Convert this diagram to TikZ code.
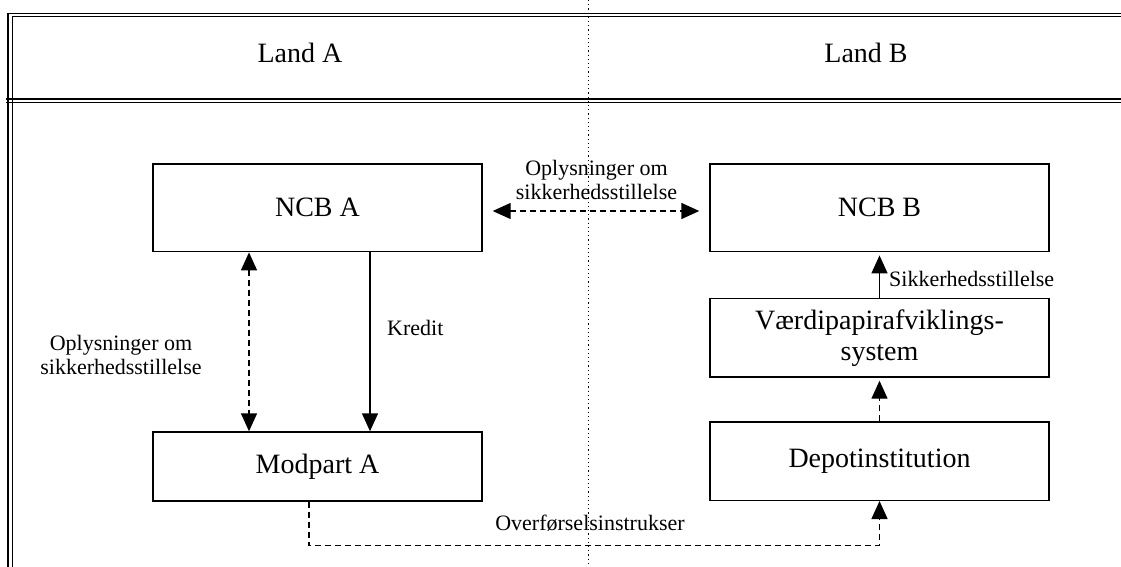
\documentclass[tikz,border=0pt]{standalone}
\usepackage{fontspec}
\setmainfont{Liberation Serif}
\usetikzlibrary{arrows.meta}
\tikzset{
  frameline/.style={line width=1.3pt,black},
  sepline/.style={line width=1.2pt,black,dash pattern=on 1.2pt off 3pt},
  boxnode/.style={draw,line width=1.4pt,inner sep=0pt,font=\fontsize{28}{31}\selectfont,align=center},
  landtext/.style={font=\fontsize{28}{31}\selectfont,anchor=base},
  labeltext/.style={font=\fontsize{22}{24}\selectfont,anchor=base,inner sep=0pt},
  conn/.style={line width=1.4pt},
  dashconn/.style={line width=1.4pt,dash pattern=on 6pt off 4pt},
  tip/.style={-{Triangle[length=18pt,width=16pt]}},
  tips/.style={{Triangle[length=18pt,width=16pt]}-{Triangle[length=18pt,width=16pt]}}
}
\begin{document}
\begin{tikzpicture}[x=1pt,y=-1pt]
\useasboundingbox (0,0) rectangle (1121,567);
% frame
\draw[frameline] (8,567) -- (8,13.3) -- (1121,13.3);
\draw[frameline] (12.3,567) -- (12.3,16.7) -- (1121,16.7);
\draw[frameline] (6,99) -- (1121,99);
\draw[frameline] (6,102.5) -- (1121,102.5);
\draw[sepline] (588.3,0) -- (588.3,567);
% headings
\node[landtext] (landa) at (300,63) {Land A};
\node[landtext] (landb) at (866,63) {Land B};
% boxes
\node[boxnode,minimum width=329pt,minimum height=87.7pt] (ncba) at (317.5,207.85) {NCB A};
\node[boxnode,minimum width=329pt,minimum height=69pt] (modpa) at (317.5,466.5) {Modpart A};
\node[boxnode,minimum width=339pt,minimum height=87.7pt] (ncbb) at (879.5,207.85) {NCB B};
\node[boxnode,minimum width=339pt,minimum height=78.5pt] (vaerdi) at (879.5,337.75) {V\ae rdipapirafviklings-\\system};
\node[boxnode,minimum width=339pt,minimum height=78.3pt] (depot) at (879.5,461.15) {Depotinstitution};
% helper coordinates
\coordinate (ya) at (0,211);
\coordinate (xa) at (249,0);
\coordinate (xk) at (370,0);
\coordinate (cb) at (309,545.7);
% connectors
\draw[dashconn,tips,shorten <=10pt,shorten >=10pt] (ncba.east |- ya) -- (ncbb.west |- ya);
\draw[dashconn,tips] (ncba.south -| xa) -- (modpa.north -| xa);
\draw[conn,tip] (ncba.south -| xk) -- (modpa.north -| xk);
\draw[conn,tip,shorten >=3pt] (vaerdi.north) -- (ncbb.south);
\draw[dashconn,tip,shorten >=3pt] (depot.north) -- (vaerdi.south);
\draw[dashconn,tip] (modpa.south -| cb) -- (cb) -- (cb -| depot.south) -- (depot.south);
% labels
\node[labeltext] (tl1) at (596.5,175) {Oplysninger om};
\node[labeltext] (tl2) at (596.5,199) {sikkerhedsstillelse};
\node[labeltext] (ll1) at (121,350) {Oplysninger om};
\node[labeltext] (ll2) at (121,374) {sikkerhedsstillelse};
\node[labeltext,anchor=base west] (kredit) at (387,335) {Kredit};
\node[labeltext,anchor=base west] (sik) at (889,286.7) {Sikkerhedsstillelse};
\node[labeltext] (over) at (590,530) {Overf\o rselsinstrukser};
\end{tikzpicture}
\end{document}
